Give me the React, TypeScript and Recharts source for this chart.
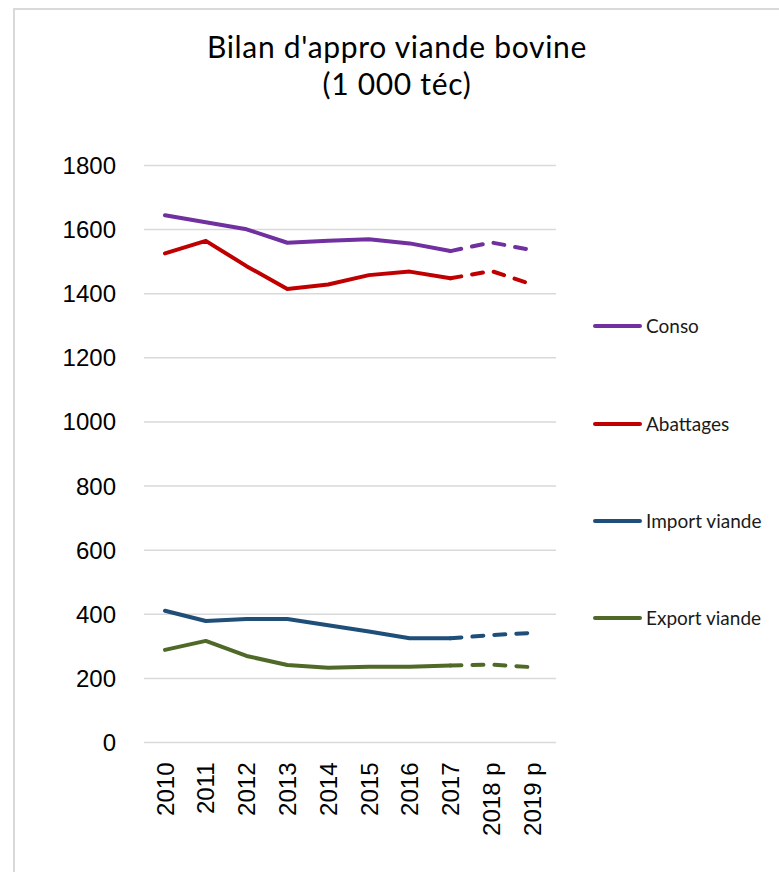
import React from 'react';
import { LineChart, Line, XAxis, YAxis, CartesianGrid, Legend } from 'recharts';

const categories = ['2010', '2011', '2012', '2013', '2014', '2015', '2016', '2017', '2018 p', '2019 p'];
const conso = [1645, 1623, 1601, 1559, 1565, 1570, 1557, 1533, 1560, 1536];
const abattages = [1526, 1565, 1486, 1415, 1429, 1458, 1469, 1448, 1471, 1429];
const importViande = [411, 379, 385, 385, 366, 346, 325, 325, 335, 342];
const exportViande = [289, 317, 270, 242, 233, 236, 236, 240, 243, 235];
const yTicks = [0, 200, 400, 600, 800, 1000, 1200, 1400, 1600, 1800];
const lastActualIndex = 7; // 2017

const seriesDefs = [
  { key: 'conso', name: 'Conso', values: conso, color: '#7030A0' },
  { key: 'abattages', name: 'Abattages', values: abattages, color: '#C00000' },
  { key: 'import', name: 'Import viande', values: importViande, color: '#1F4E79' },
  { key: 'export', name: 'Export viande', values: exportViande, color: '#4F6A28' },
];

const data = categories.map((cat, i) => {
  const row: Record<string, any> = { cat };
  seriesDefs.forEach((s) => {
    row[s.key] = i <= lastActualIndex ? s.values[i] : null;
    row[s.key + 'P'] = i >= lastActualIndex ? s.values[i] : null;
  });
  return row;
});

const FONT_AXIS = '"Liberation Sans", Arial, sans-serif';
const FONT_TEXT = 'Lato, "Open Sans", sans-serif';

const XTick = (props: any) => {
  const { x, y, payload } = props;
  return (
    <g transform={`translate(${x},${y})`}>
      <text
        transform="rotate(-90)"
        x={-20}
        y={0}
        dy="0.36em"
        textAnchor="end"
        fontSize={24}
        fontFamily={FONT_AXIS}
        fill="#000"
      >
        {payload.value}
      </text>
    </g>
  );
};

const legendY = [326, 424, 521, 618];

const LegendContent = () => (
  <svg width={779} height={872} style={{ position: 'absolute', left: 0, top: 0 }}>
    {seriesDefs.map((s, i) => (
      <g key={s.key}>
        <line x1={595} x2={640} y1={legendY[i]} y2={legendY[i]} stroke={s.color} strokeWidth={4} strokeLinecap="round" />
        <text x={646} y={legendY[i]} dy="0.35em" fontSize={19} fontFamily={FONT_TEXT} fill="#1a1a1a">
          {s.name}
        </text>
      </g>
    ))}
  </svg>
);

export default function App() {
  return (
    <div style={{ position: 'absolute', left: 0, top: 0, width: 779, height: 872, background: '#fff', overflow: 'hidden' }}>
      <div
        style={{
          position: 'absolute',
          left: 13,
          top: 8,
          width: 900,
          height: 1000,
          borderTop: '2px solid #d9d9d9',
          borderLeft: '2px solid #d9d9d9',
        }}
      />
      <LineChart
        width={779}
        height={872}
        data={data}
        margin={{ top: 165.5, right: 223, left: 84, bottom: 29.5 }}
        style={{ position: 'absolute', left: 0, top: 0 }}
      >
        <CartesianGrid horizontal vertical={false} stroke="#d9d9d9" strokeWidth={1.5} />
        <XAxis
          dataKey="cat"
          interval={0}
          axisLine={false}
          tickLine={false}
          tickSize={0}
          tickMargin={0}
          height={100}
          padding={{ left: 21, right: 24 }}
          tick={<XTick />}
        />
        <YAxis
          domain={[0, 1800]}
          ticks={yTicks}
          interval={0}
          axisLine={false}
          tickLine={false}
          tickSize={0}
          tickMargin={28}
          width={60}
          tick={{ fontSize: 24, fontFamily: FONT_AXIS, fill: '#000' }}
        />
        <Legend layout="vertical" align="center" verticalAlign="middle" wrapperStyle={{ position: 'absolute', left: 0, top: 0, width: 779, height: 872 }} content={<LegendContent />} />
        {seriesDefs.map((s) => (
          <Line
            key={s.key}
            type="linear"
            dataKey={s.key}
            name={s.name}
            stroke={s.color}
            strokeWidth={4}
            strokeLinecap="round"
            strokeLinejoin="round"
            dot={false}
            activeDot={false}
            connectNulls={false}
            isAnimationActive={false}
          />
        ))}
        {seriesDefs.map((s) => (
          <Line
            key={s.key + 'P'}
            type="linear"
            dataKey={s.key + 'P'}
            name={s.name + ' p'}
            legendType="none"
            stroke={s.color}
            strokeWidth={4}
            strokeDasharray="11 11"
            strokeLinecap="round"
            strokeLinejoin="round"
            dot={false}
            activeDot={false}
            connectNulls={false}
            isAnimationActive={false}
          />
        ))}
      </LineChart>
      <svg width={779} height={872} style={{ position: 'absolute', left: 0, top: 0, pointerEvents: 'none' }}>
        <text x={397} y={58} textAnchor="middle" fontSize={30} letterSpacing={0.7} fontFamily={FONT_TEXT} fill="#000">
          Bilan d'appro viande bovine
        </text>
        <text x={397} y={95} textAnchor="middle" fontSize={30} letterSpacing={0.7} fontFamily={FONT_TEXT} fill="#000">
          (1 000 téc)
        </text>
      </svg>
    </div>
  );
}
